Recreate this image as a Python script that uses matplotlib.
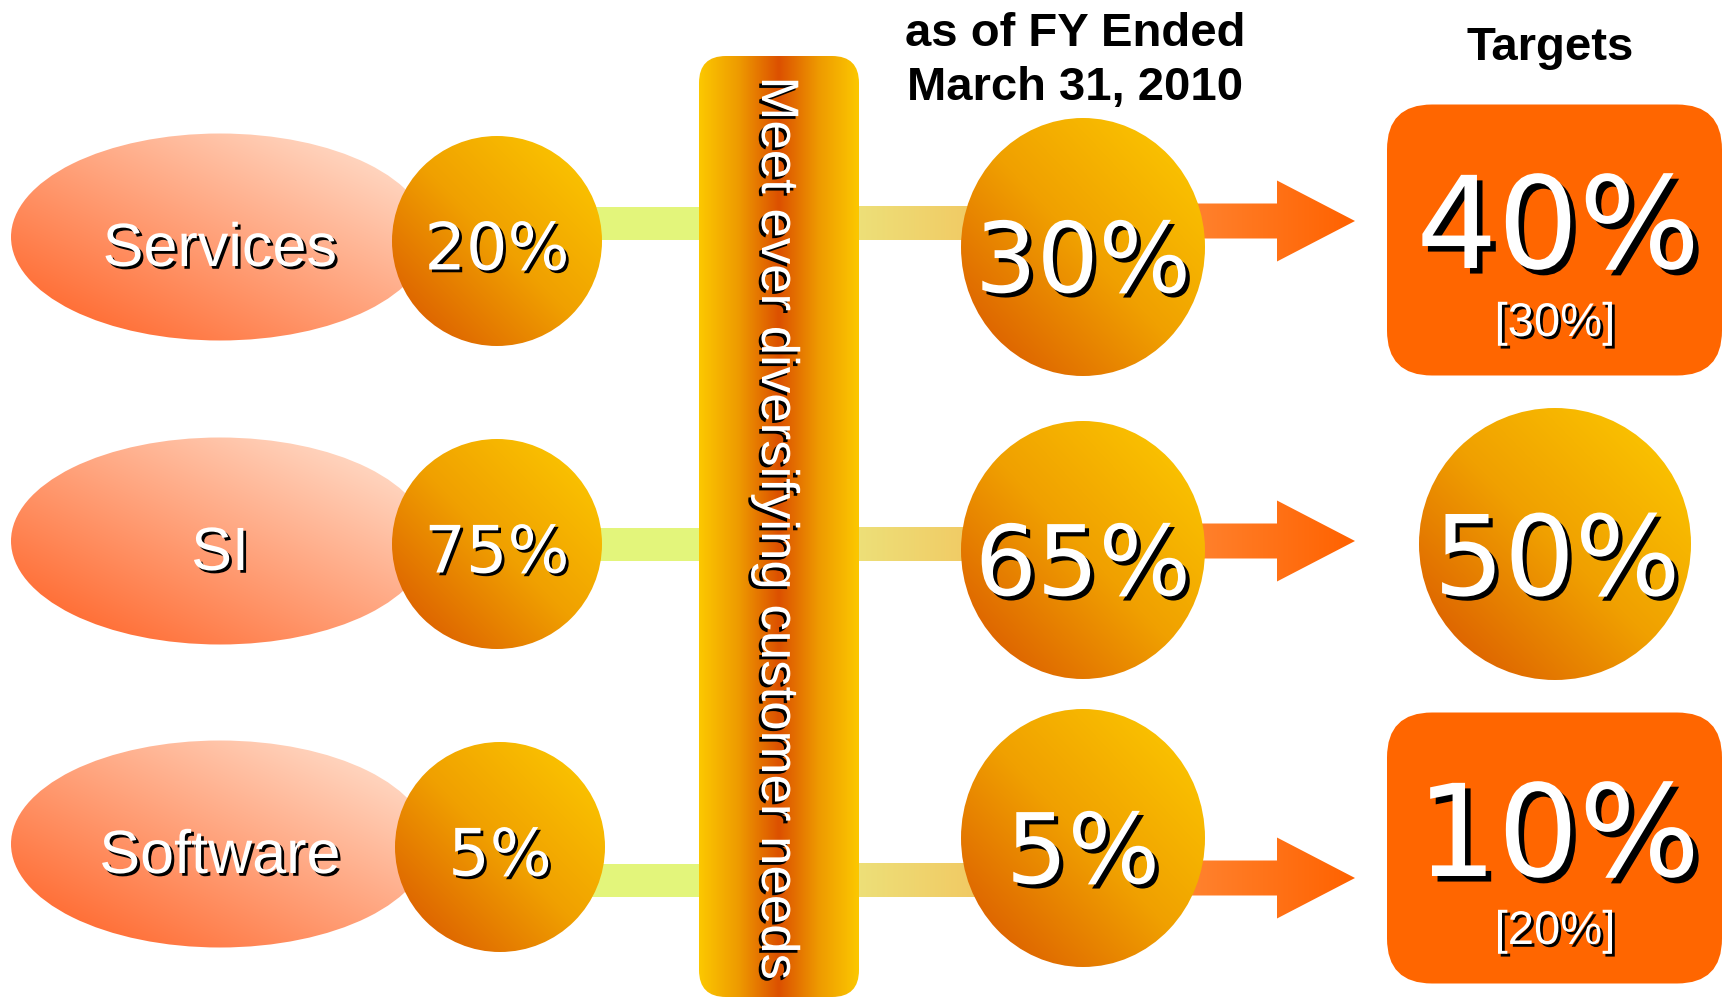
import numpy as np
import matplotlib.pyplot as plt
import matplotlib.patheffects as pe
from matplotlib import font_manager
from matplotlib.colors import to_rgb
from matplotlib.patches import Ellipse, FancyBboxPatch, Polygon, Rectangle

# Business mix by segment (%)
segments = ['Services', 'SI', 'Software']
share_start = [20, 75, 5]
share_fy2010 = [30, 65, 5]
share_target = [40, 50, 10]
prior_target = [30, None, 20]   # earlier target shown in brackets

header_mid = 'as of FY Ended\nMarch 31, 2010'
header_right = 'Targets'
bar_text = 'Meet ever diversifying customer needs'

# row layout (pixel coordinates, y grows downward)
ell_y = [237, 541, 844]
left_y = [241, 544, 847]
link_y = [223, 544, 880]
mid_y = [247, 550, 838]
arrow_y = [221, 541, 878]
target_y = [240, 544, 848]

W, H = 1723, 998
fig = plt.figure(figsize=(W / 100, H / 100), dpi=100)
ax = fig.add_axes([0, 0, 1, 1])
ax.axis('off')

names = {f.name for f in font_manager.fontManager.ttflist}
narrow = 'Liberation Sans Narrow' if 'Liberation Sans Narrow' in names else 'Liberation Sans'

ORANGE_BALL = [(0.05, '#DA5800'), (0.5, '#F0A000'), (0.95, '#FCC800')]
PEACH = [(0.1, '#FF6A30'), (0.9, '#FFDAC6')]


def gradient(patch, extent, stops, kind, z):
    x0, x1, y0, y1 = extent
    u = np.linspace(0, 1, 300)
    U, V = np.meshgrid(u, u)
    if kind == 'diag':
        t = (U + (1 - V)) / 2
    elif kind == 'mirror':
        t = np.abs(2 * U - 1)
    else:
        t = U
    pos = [s[0] for s in stops]
    cols = np.array([to_rgb(s[1]) for s in stops])
    img = np.stack([np.interp(t, pos, cols[:, k]) for k in range(3)], axis=-1)
    patch.set_facecolor('none')
    patch.set_edgecolor('none')
    ax.add_patch(patch)
    im = ax.imshow(img, extent=(x0, x1, y1, y0), origin='upper', zorder=z,
                   interpolation='bilinear', aspect='auto')
    im.set_clip_path(patch)


def ball(cx, cy, w, h, z=3):
    gradient(Ellipse((cx, cy), w, h), (cx - w / 2, cx + w / 2, cy - h / 2, cy + h / 2),
             ORANGE_BALL, 'diag', z)


def label(x, cy, s, size, off=2, family='DejaVu Sans', **kw):
    # white text with a hard black drop shadow, vertically centred on the caps
    base = cy + 0.36 * size * 100 / 72
    ax.text(x, base, s, fontsize=size, color='white', family=family, ha='center',
            va='baseline', zorder=6,
            path_effects=[pe.withSimplePatchShadow(offset=(off, -off), shadow_rgbFace='black', alpha=1)],
            **kw)


for i, seg in enumerate(segments):
    # left segment ellipse + starting share ball
    gradient(Ellipse((220, ell_y[i]), 418, 207), (11, 429, ell_y[i] - 104, ell_y[i] + 104),
             PEACH, 'diag', 2)
    label(220, ell_y[i] + 7, seg, 44, family='Liberation Sans')

    ax.add_patch(Rectangle((560, link_y[i] - 16.5), 145, 33, color='#E3F57B', lw=0, zorder=1))
    cx = 497 if i < 2 else 500
    ball(cx, left_y[i], 210, 210)
    label(cx, left_y[i] + 5, f'{share_start[i]}%', 47)

    # link to FY2010 ball
    gradient(Rectangle((855, link_y[i] - 17), 150, 34), (855, 1005, link_y[i] - 17, link_y[i] + 17),
             [(0, '#EDE079'), (1, '#F2C45E')], 'h', 1)
    ball(1083, mid_y[i], 244, 258)
    label(1083, mid_y[i] + 10, f'{share_fy2010[i]}%', 70, off=3)

    # arrow to target
    ay = arrow_y[i]
    arrow = Polygon([(1150, ay - 17.5), (1277, ay - 17.5), (1277, ay - 40.5), (1355, ay),
                     (1277, ay + 40.5), (1277, ay + 17.5), (1150, ay + 17.5)], closed=True)
    gradient(arrow, (1150, 1355, ay - 41, ay + 41), [(0, '#FF8A3A'), (1, '#FF6200')], 'h', 2)

    ty = target_y[i]
    if prior_target[i] is None:
        ball(1555, ty, 272, 272)
        label(1557, ty + 11, f'{share_target[i]}%', 80, off=3)
    else:
        ax.add_patch(FancyBboxPatch((1387, ty - 135.5), 335, 271,
                                    boxstyle='round,pad=0,rounding_size=45',
                                    fc='#FF6600', ec='none', zorder=2))
        label(1558, ty - 18, f'{share_target[i]}%', 92, off=4)
        label(1555, ty + 79, f'[{prior_target[i]}%]', 38 if narrow != 'Liberation Sans' else 34,
              family=narrow)

# central bar
gradient(FancyBboxPatch((699, 56), 160, 941, boxstyle='round,pad=0,rounding_size=27'),
         (699, 859, 56, 997), [(0, '#DC5000'), (0.5, '#EE9A00'), (1, '#FCC800')], 'mirror', 3)
ax.text(776, 528, bar_text, rotation=270, fontsize=38, color='white', family='Liberation Sans',
        ha='center', va='center', zorder=6,
        path_effects=[pe.withSimplePatchShadow(offset=(-2, -2), shadow_rgbFace='black', alpha=1)])

# column headers
for k, line in enumerate(header_mid.split('\n')):
    ax.text(1075, 46 + 54 * k, line, fontsize=34, fontweight='bold', family='Liberation Sans',
            ha='center', va='baseline')
ax.text(1550, 60, header_right, fontsize=34, fontweight='bold', family='Liberation Sans',
        ha='center', va='baseline')

ax.set_xlim(0, W)
ax.set_ylim(H, 0)
fig.savefig('out.png', dpi=100)
